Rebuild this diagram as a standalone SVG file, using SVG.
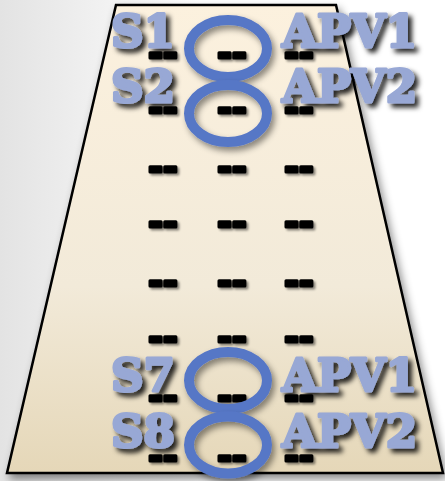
<svg xmlns="http://www.w3.org/2000/svg" width="445" height="481" viewBox="0 0 445 481">
  <defs>
    <linearGradient id="bg" x1="0" y1="0" x2="1" y2="0">
      <stop offset="0" stop-color="#e3e3e3"/>
      <stop offset="0.45" stop-color="#ffffff"/>
      <stop offset="1" stop-color="#ffffff"/>
    </linearGradient>
    <linearGradient id="plate" x1="0" y1="0" x2="0" y2="1">
      <stop offset="0" stop-color="#fcf1de"/>
      <stop offset="0.6" stop-color="#f2ead9"/>
      <stop offset="1" stop-color="#e5d7b8"/>
    </linearGradient>
    <filter id="plateShadow" x="-10%" y="-10%" width="120%" height="120%">
      <feDropShadow dx="3" dy="5" stdDeviation="4" flood-color="#000" flood-opacity="0.45"/>
    </filter>
    <filter id="labelShadow" x="-20%" y="-30%" width="150%" height="170%">
      <feDropShadow dx="4" dy="4" stdDeviation="2.5" flood-color="#000" flood-opacity="0.85"/>
    </filter>
    <filter id="dashShadow" x="-20%" y="-50%" width="150%" height="220%">
      <feDropShadow dx="2" dy="2" stdDeviation="1.2" flood-color="#000" flood-opacity="0.45"/>
    </filter>
    <filter id="ringShadow" x="-20%" y="-20%" width="150%" height="150%">
      <feDropShadow dx="3" dy="4" stdDeviation="3" flood-color="#000" flood-opacity="0.45"/>
    </filter>
  </defs>
  <style>
    .dash { font-family: "Liberation Sans", Arial, sans-serif; font-weight: bold; font-size: 44px; fill: #000; stroke: #000; stroke-width: 3; stroke-linejoin: round; text-anchor: middle; filter: url(#dashShadow); }
    .lbl { font-family: "DejaVu Serif", serif; font-weight: bold; font-size: 45px; fill: #98a8d5; stroke: #98a8d5; stroke-width: 3; stroke-linejoin: round; filter: url(#labelShadow); }
    .ring { fill: none; stroke: #5777c6; stroke-width: 10; filter: url(#ringShadow); }
  </style>

  <rect width="445" height="481" fill="url(#bg)"/>

  <!-- trapezoid plate -->
  <g id="plate-shape">
    <polygon points="116,5 336,5 443,473 7,473" fill="url(#plate)" stroke="#000" stroke-width="2.5" filter="url(#plateShadow)"/>
  </g>

  <!-- dash grid -->
  <g id="dashes">
    <text class="dash" x="163" y="67">--</text>
    <text class="dash" x="232" y="67">--</text>
    <text class="dash" x="299" y="67">--</text>
    <text class="dash" x="163" y="122">--</text>
    <text class="dash" x="232" y="122">--</text>
    <text class="dash" x="299" y="122">--</text>
    <text class="dash" x="163" y="181">--</text>
    <text class="dash" x="232" y="181">--</text>
    <text class="dash" x="299" y="181">--</text>
    <text class="dash" x="163" y="236">--</text>
    <text class="dash" x="232" y="236">--</text>
    <text class="dash" x="299" y="236">--</text>
    <text class="dash" x="163" y="295">--</text>
    <text class="dash" x="232" y="295">--</text>
    <text class="dash" x="299" y="295">--</text>
    <text class="dash" x="163" y="351">--</text>
    <text class="dash" x="232" y="351">--</text>
    <text class="dash" x="299" y="351">--</text>
    <text class="dash" x="163" y="410">--</text>
    <text class="dash" x="232" y="410">--</text>
    <text class="dash" x="299" y="410">--</text>
    <text class="dash" x="163" y="470">--</text>
    <text class="dash" x="232" y="470">--</text>
    <text class="dash" x="299" y="470">--</text>
  </g>

  <!-- labels -->
  <g id="label-s1"><text class="lbl" x="111" y="47">S1</text></g>
  <g id="label-apv1-top"><text class="lbl" x="282" y="47">APV1</text></g>
  <g id="label-s2"><text class="lbl" x="111" y="102">S2</text></g>
  <g id="label-apv2-top"><text class="lbl" x="282" y="102">APV2</text></g>
  <g id="label-s7"><text class="lbl" x="111" y="391">S7</text></g>
  <g id="label-apv1-bottom"><text class="lbl" x="282" y="391">APV1</text></g>
  <g id="label-s8"><text class="lbl" x="111" y="447">S8</text></g>
  <g id="label-apv2-bottom"><text class="lbl" x="282" y="447">APV2</text></g>

  <!-- rings -->
  <g id="ring-1"><ellipse class="ring" cx="228" cy="48.5" rx="39" ry="28.5"/></g>
  <g id="ring-2"><ellipse class="ring" cx="228" cy="113.5" rx="39" ry="28.5"/></g>
  <g id="ring-7"><ellipse class="ring" cx="228" cy="380.5" rx="39" ry="28.5"/></g>
  <g id="ring-8"><ellipse class="ring" cx="228" cy="445" rx="39" ry="28.5"/></g>
</svg>
